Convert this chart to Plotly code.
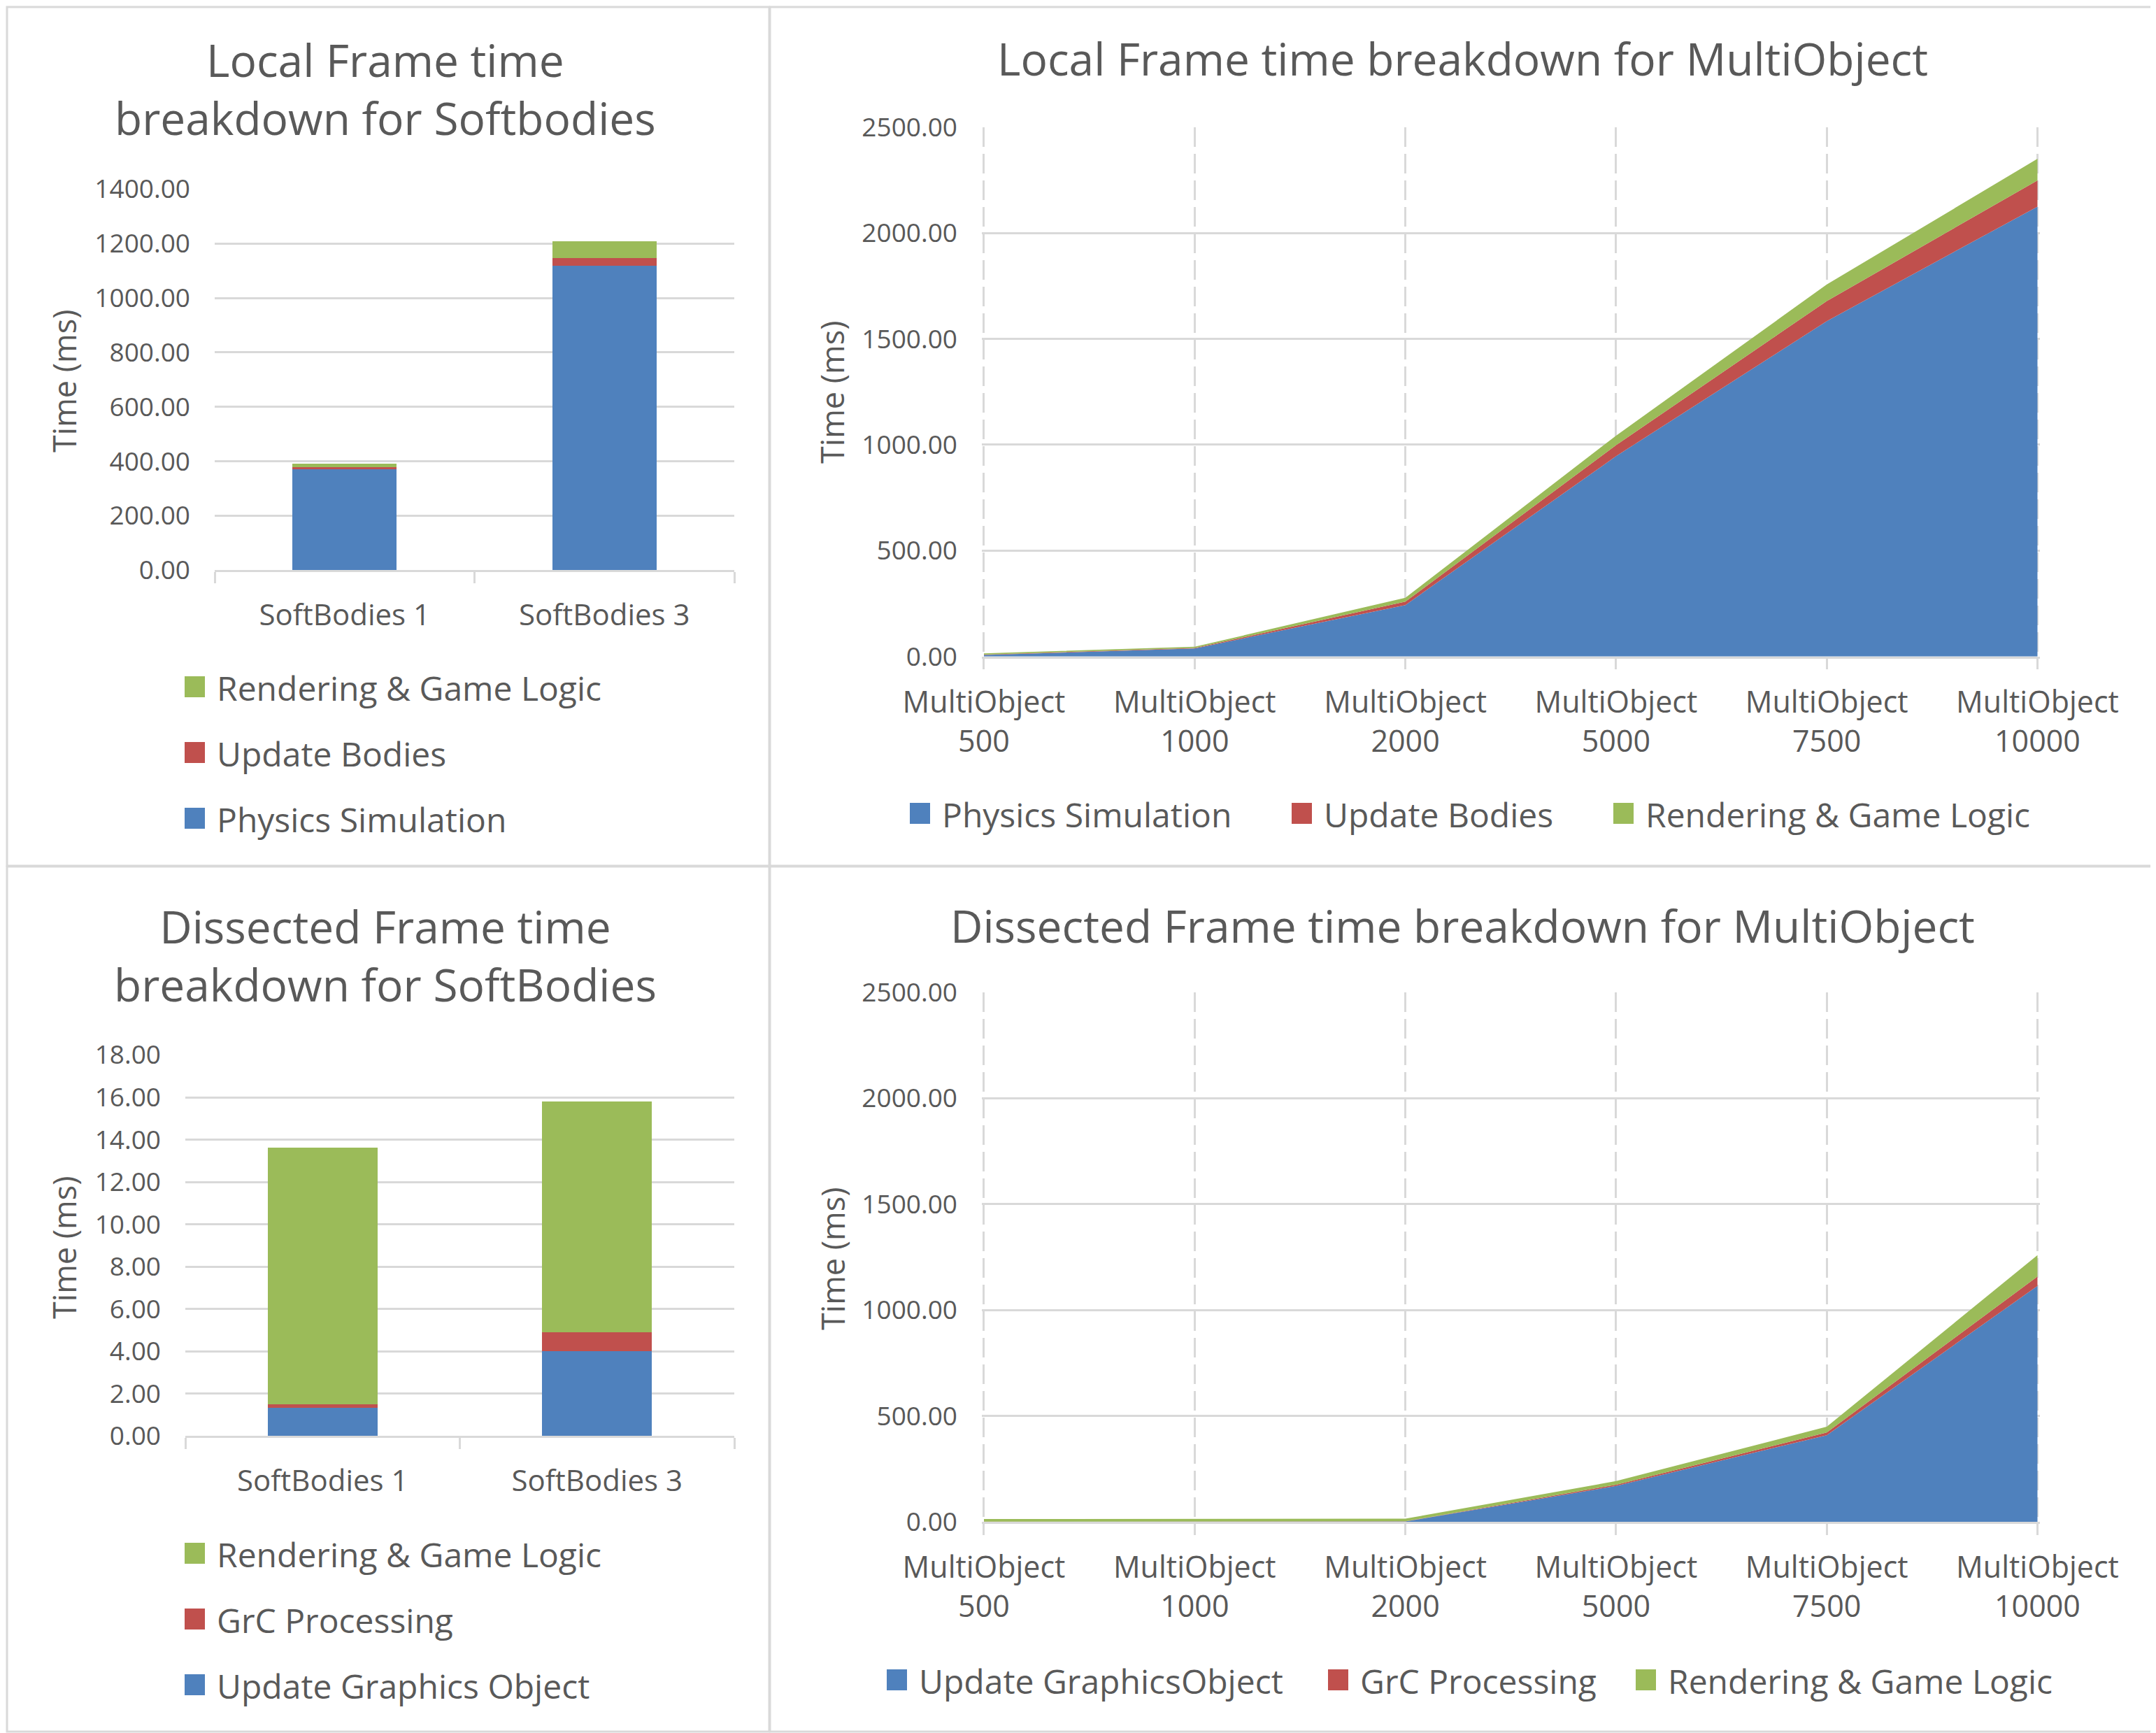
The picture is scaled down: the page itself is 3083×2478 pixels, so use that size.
import plotly.graph_objects as go

# the page body keeps its default 8px margin, so the figure is drawn that much
# smaller and all reference pixel positions are shifted back by it
OFF = 8
W, H = 3083 - OFF, 2478 - OFF

# ---- data ----
sb_labels = ["SoftBodies 1", "SoftBodies 3"]
local_sb_physics = [372, 1118]
local_sb_update = [6, 28]
local_sb_render = [14, 63]

diss_sb_update_go = [1.33, 4.02]
diss_sb_grc = [0.18, 0.88]
diss_sb_render = [12.11, 10.91]

mo_labels = ["MultiObject 500", "MultiObject 1000", "MultiObject 2000",
             "MultiObject 5000", "MultiObject 7500", "MultiObject 10000"]
local_mo_physics = [7, 38, 243, 946, 1584, 2125]
local_mo_update = [2, 2, 16, 52, 95, 124]
local_mo_render = [6, 6, 18, 45, 78, 102]

diss_mo_update_go = [0.4, 0.6, 1.5, 169, 409, 1114]
diss_mo_grc = [0.1, 0.2, 0.8, 6, 13, 44]
diss_mo_render = [12.5, 12.5, 12.5, 17, 27, 101]

BLUE, RED, GREEN = "#4F81BD", "#C0504D", "#9BBB59"
GRID = "#D9D9D9"
TEXT = "#595959"
FONT = "Open Sans"


def px(x):
    return (x - OFF) / W


def py(y):
    return 1 - (y - OFF) / H


mo_x = [s.replace(" ", "<br>") for s in mo_labels]

fig = go.Figure()

# top left: local softbodies (stacked bars)
tl = [("Physics Simulation", local_sb_physics, BLUE),
      ("Update Bodies", local_sb_update, RED),
      ("Rendering & Game Logic", local_sb_render, GREEN)]
for name, vals, col in tl:
    fig.add_trace(go.Bar(x=sb_labels, y=vals, name=name, marker_color=col,
                         marker_line_width=0, xaxis="x", yaxis="y", showlegend=False))

# top right: local multiobject (stacked area)
tr = [("Physics Simulation", local_mo_physics, BLUE),
      ("Update Bodies", local_mo_update, RED),
      ("Rendering & Game Logic", local_mo_render, GREEN)]
for name, vals, col in tr:
    fig.add_trace(go.Scatter(x=mo_x, y=vals, name=name, mode="lines", stackgroup="a",
                             line=dict(width=0, color=col), fillcolor=col,
                             xaxis="x2", yaxis="y2", showlegend=False))

# bottom left: dissected softbodies
bl = [("Update Graphics Object", diss_sb_update_go, BLUE),
      ("GrC Processing", diss_sb_grc, RED),
      ("Rendering & Game Logic", diss_sb_render, GREEN)]
for name, vals, col in bl:
    fig.add_trace(go.Bar(x=sb_labels, y=vals, name=name, marker_color=col,
                         marker_line_width=0, xaxis="x3", yaxis="y3", showlegend=False))

# bottom right: dissected multiobject
br = [("Update GraphicsObject", diss_mo_update_go, BLUE),
      ("GrC Processing", diss_mo_grc, RED),
      ("Rendering & Game Logic", diss_mo_render, GREEN)]
for name, vals, col in br:
    fig.add_trace(go.Scatter(x=mo_x, y=vals, name=name, mode="lines", stackgroup="b",
                             line=dict(width=0, color=col), fillcolor=col,
                             xaxis="x4", yaxis="y4", showlegend=False))

tickfont_val = dict(family=FONT, size=37, color=TEXT)

bar_x = dict(type="category", tickson="boundaries", showgrid=False, showline=True,
             linecolor=GRID, linewidth=2.5, ticks="outside", ticklen=16, tickcolor=GRID,
             tickwidth=2.5, tickfont=dict(family=FONT, size=42, color=TEXT),
             ticklabelstandoff=26, fixedrange=True, automargin=False)
# range padded a hair so the first/last dashed grid lines are not clipped away
area_x = dict(type="category", range=[-0.01, 5.01], showgrid=True, gridcolor=GRID,
              gridwidth=2.5, griddash="28px,10px", showline=True, linecolor=GRID,
              linewidth=2.5, ticks="outside", ticklen=16, tickcolor=GRID, tickwidth=2.5,
              tickfont=dict(family=FONT, size=43, color=TEXT), ticklabelstandoff=10,
              fixedrange=True, automargin=False)
val_y = dict(showgrid=True, gridcolor=GRID, gridwidth=2.5, zeroline=False, showline=False,
             ticks="", tickformat=".2f", tickfont=tickfont_val, ticklabelstandoff=34,
             fixedrange=True, automargin=False)

# one category of the area charts is (2913.5 - 1407) / 5 px wide
pad = 0.01 * (2913.5 - 1407) / 5

fig.update_layout(
    width=W, height=H, autosize=False,
    margin=dict(l=0, r=0, t=0, b=0, pad=0),
    paper_bgcolor="white", plot_bgcolor="white",
    barmode="stack", bargap=0.6,
    font=dict(family=FONT, color=TEXT),
    xaxis=dict(bar_x, domain=[px(307), px(1050)], anchor="y"),
    yaxis=dict(val_y, domain=[py(815.3), py(270.5)], range=[0, 1400], dtick=200, anchor="x"),
    xaxis2=dict(area_x, domain=[px(1407 - pad), px(2913.5 + pad)], anchor="y2"),
    yaxis2=dict(val_y, domain=[py(938.7), py(181.9)], range=[0, 2500], dtick=500, anchor="x2"),
    xaxis3=dict(bar_x, domain=[px(265), px(1050)], anchor="y3"),
    yaxis3=dict(val_y, domain=[py(2053.3), py(1508.5)], range=[0, 18], dtick=2, anchor="x3"),
    xaxis4=dict(area_x, domain=[px(1407 - pad), px(2913.5 + pad)], anchor="y4"),
    yaxis4=dict(val_y, domain=[py(2176), py(1419)], range=[0, 2500], dtick=500, anchor="x4"),
)

shapes = []
annotations = []

# panel borders
for x0, y0, x1, y1 in [(10, 10, 1100, 1238), (1101, 10, 3081, 1238),
                       (10, 1239, 1100, 2476), (1101, 1239, 3081, 2476)]:
    shapes.append(dict(type="rect", xref="paper", yref="paper",
                       x0=px(x0), x1=px(x1), y0=py(y1), y1=py(y0),
                       line=dict(color=GRID, width=3), fillcolor="rgba(0,0,0,0)", layer="below"))

# chart titles
for text, x, y in [("Local Frame time<br>breakdown for Softbodies", 551, 127),
                   ("Local Frame time breakdown for MultiObject", 2091, 83),
                   ("Dissected Frame time<br>breakdown for SoftBodies", 551, 1366),
                   ("Dissected Frame time breakdown for MultiObject", 2091, 1323)]:
    annotations.append(dict(text=text, x=px(x), y=py(y), xref="paper", yref="paper",
                            xanchor="center", yanchor="middle", showarrow=False,
                            font=dict(family=FONT, size=64, color=TEXT)))

# axis titles
for x, y in [(92, 545), (1190, 561), (92, 1784), (1190, 1800)]:
    annotations.append(dict(text="Time (ms)", x=px(x), y=py(y), xref="paper", yref="paper",
                            xanchor="center", yanchor="middle", textangle=-90, showarrow=False,
                            font=dict(family=FONT, size=45, color=TEXT)))


def legend_item(x0, yc, color, text):
    shapes.append(dict(type="rect", xref="paper", yref="paper",
                       x0=px(x0), x1=px(x0 + 29), y0=py(yc + 15), y1=py(yc - 15),
                       line=dict(width=0), fillcolor=color))
    annotations.append(dict(text=text, x=px(x0 + 44), y=py(yc + 1), xref="paper", yref="paper",
                            xanchor="left", yanchor="middle", showarrow=False,
                            font=dict(family=FONT, size=48, color=TEXT)))


# vertical legends (left charts), top to bottom reversed from stack order
for series, y_top in [(tl, 982), (bl, 2221)]:
    for i, (name, _, col) in enumerate(reversed(series)):
        legend_item(264, y_top + i * 94, col, name)

# horizontal legends (right charts)
for series, xs, yc in [(tr, [1301, 1847, 2307], 1163), (br, [1268, 1899, 2339], 2402)]:
    for (name, _, col), x0 in zip(series, xs):
        legend_item(x0, yc, col, name)

fig.update_layout(shapes=shapes, annotations=annotations)

fig.write_html("out.html")
